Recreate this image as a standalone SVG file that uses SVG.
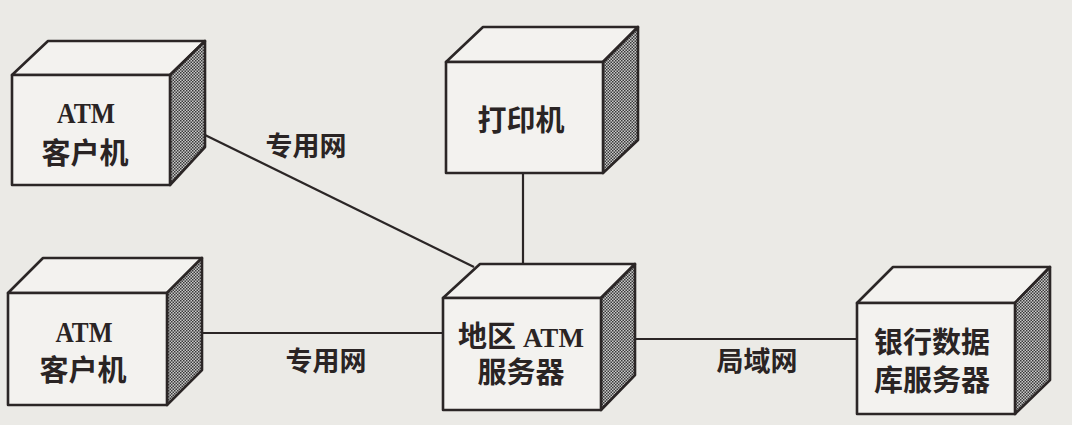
<svg xmlns="http://www.w3.org/2000/svg" width="1072" height="425" viewBox="0 0 1072 425">
<defs>
<pattern id="dots" width="3" height="3" patternUnits="userSpaceOnUse">
<rect width="3" height="3" fill="#c9c9c9"/>
<rect width="1.5" height="1.5" fill="#3a3a3a"/>
<rect x="1.5" y="1.5" width="1.5" height="1.5" fill="#3a3a3a"/>
</pattern>
</defs>
<style>
.face{fill:#f3f2ef;stroke:#2b2626;stroke-width:2.6;stroke-linejoin:round}
.side{fill:url(#dots);stroke:#2b2626;stroke-width:2.6;stroke-linejoin:round}
.ln{stroke:#2b2626;stroke-width:2.2;fill:none}
.cn{font-family:"Noto Sans CJK SC","Noto Sans CJK JP",sans-serif;font-size:29px;font-weight:bold;fill:#2a2424;text-anchor:middle}
.en{font-family:"Liberation Serif",serif;font-size:30px;font-weight:bold;fill:#2a2424;text-anchor:middle}
.lb{font-family:"Noto Sans CJK SC","Noto Sans CJK JP",sans-serif;font-size:27px;font-weight:bold;fill:#2a2424;text-anchor:middle}
</style>
<rect width="1072" height="425" fill="#ebeae6"/>
<g id="connectors">
<line class="ln" x1="205" y1="135" x2="474" y2="267"/>
<line class="ln" x1="523" y1="173" x2="523" y2="264"/>
<line class="ln" x1="202" y1="333" x2="443" y2="333"/>
<line class="ln" x1="635" y1="339" x2="857" y2="339"/>
<text class="lb" x="306" y="156">专用网</text>
<text class="lb" x="326" y="371">专用网</text>
<text class="lb" x="757" y="371">局域网</text>
</g>
<g id="atm1">
<polygon class="face" points="12,75 48,41 205,41 170,75"/>
<polygon class="side" points="170,75 205,41 205,147 170,185"/>
<rect class="face" x="12" y="75" width="158" height="110"/>
<text class="en" x="86" y="123" textLength="58" lengthAdjust="spacingAndGlyphs">ATM</text>
<text class="cn" x="85" y="164">客户机</text>
</g>
<g id="printer">
<polygon class="face" points="446,62 483,27 638,27 603,62"/>
<polygon class="side" points="603,62 638,27 638,140 603,173"/>
<rect class="face" x="446" y="62" width="157" height="111"/>
<text class="cn" x="521" y="131">打印机</text>
</g>
<g id="atm2">
<polygon class="face" points="8,293 43,258 202,258 167,293"/>
<polygon class="side" points="167,293 202,258 202,370 167,405"/>
<rect class="face" x="8" y="293" width="159" height="112"/>
<text class="en" x="84" y="342" textLength="57" lengthAdjust="spacingAndGlyphs">ATM</text>
<text class="cn" x="83" y="381">客户机</text>
</g>
<g id="server">
<polygon class="face" points="443,298 480,264 635,264 601,298"/>
<polygon class="side" points="601,298 635,264 635,375 601,410"/>
<rect class="face" x="443" y="298" width="158" height="112"/>
<text class="cn" x="521" y="347"><tspan>地区</tspan><tspan font-family="Liberation Serif, serif" font-size="27"> ATM</tspan></text>
<text class="cn" x="521" y="383">服务器</text>
</g>
<g id="bankdb">
<polygon class="face" points="857,303 893,267 1050,267 1015,303"/>
<polygon class="side" points="1015,303 1050,267 1050,380 1015,414"/>
<rect class="face" x="857" y="303" width="158" height="111"/>
<text class="cn" x="932" y="353" font-size="27">银行数据</text>
<text class="cn" x="932" y="391" font-size="27">库服务器</text>
</g>
</svg>
